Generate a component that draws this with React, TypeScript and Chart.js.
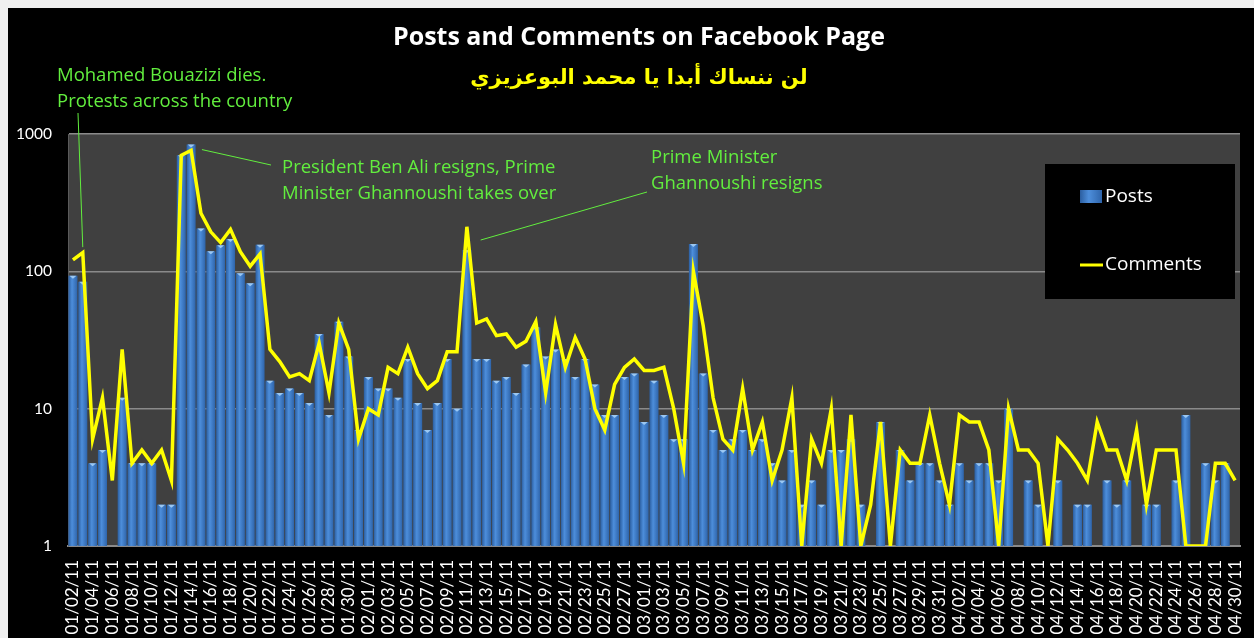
import React, { useEffect, useRef } from 'react';
import { Chart, registerables } from 'chart.js';

Chart.register(...registerables);

const dates: string[] = [
  '01/02/11','01/03/11','01/04/11','01/05/11','01/06/11','01/07/11','01/08/11','01/09/11','01/10/11','01/11/11',
  '01/12/11','01/13/11','01/14/11','01/15/11','01/16/11','01/17/11','01/18/11','01/19/11','01/20/11','01/21/11',
  '01/22/11','01/23/11','01/24/11','01/25/11','01/26/11','01/27/11','01/28/11','01/29/11','01/30/11','01/31/11',
  '02/01/11','02/02/11','02/03/11','02/04/11','02/05/11','02/06/11','02/07/11','02/08/11','02/09/11','02/10/11',
  '02/11/11','02/12/11','02/13/11','02/14/11','02/15/11','02/16/11','02/17/11','02/18/11','02/19/11','02/20/11',
  '02/21/11','02/22/11','02/23/11','02/24/11','02/25/11','02/26/11','02/27/11','02/28/11',
  '03/01/11','03/02/11','03/03/11','03/04/11','03/05/11','03/06/11','03/07/11','03/08/11','03/09/11','03/10/11',
  '03/11/11','03/12/11','03/13/11','03/14/11','03/15/11','03/16/11','03/17/11','03/18/11','03/19/11','03/20/11',
  '03/21/11','03/22/11','03/23/11','03/24/11','03/25/11','03/26/11','03/27/11','03/28/11','03/29/11','03/30/11',
  '03/31/11',
  '04/01/11','04/02/11','04/03/11','04/04/11','04/05/11','04/06/11','04/07/11','04/08/11','04/09/11','04/10/11',
  '04/11/11','04/12/11','04/13/11','04/14/11','04/15/11','04/16/11','04/17/11','04/18/11','04/19/11','04/20/11',
  '04/21/11','04/22/11','04/23/11','04/24/11','04/25/11','04/26/11','04/27/11','04/28/11','04/29/11','04/30/11',
];

const posts: (number | null)[] = [
  93, 84, 4, 5, null, 12, 4, 4, 4, 2,
  2, 700, 840, 205, 140, 155, 172, 97, 82, 156,
  16, 13, 14, 13, 11, 35, 9, 43, 24, 7,
  17, 14, 14, 12, 23, 11, 7, 11, 23, 10,
  143, 23, 23, 16, 17, 13, 21, 39, 24, 27,
  23, 17, 23, 15, 9, 9, 17, 18,
  8, 16, 9, 6, 6, 158, 18, 7, 5, 6,
  7, 5, 6, 4, 3, 5, 2, 3, 2, 5,
  5, 6, 2, null, 8, null, 5, 3, 4, 4,
  3,
  2, 4, 3, 4, 4, 3, 10, null, 3, 2,
  null, 3, null, 2, 2, null, 3, 2, 3, null,
  2, 2, null, 3, 9, null, 4, 3, 4, null,
];

const comments: number[] = [
  121, 137, 6, 12, 3, 27, 4, 5, 4, 5,
  3, 700, 760, 265, 194, 162, 202, 139, 109, 134,
  27, 22, 17, 18, 16, 30, 13, 42, 27, 6,
  10, 9, 20, 18, 28, 18, 14, 16, 26, 26,
  211, 42, 45, 34, 35, 28, 31, 43, 13, 41,
  20, 33, 23, 10, 7, 15, 20, 23,
  19, 19, 20, 10, 4, 100, 40, 12, 6, 5,
  14, 5, 8, 3, 5, 12, 1, 6, 4, 10,
  1, 9, 1, 2, 8, 1, 5, 4, 4, 9,
  4,
  2, 9, 8, 8, 5, 1, 10, 5, 5, 4,
  1, 6, 5, 4, 3, 8, 5, 5, 3, 7,
  2, 5, 5, 5, 1, 1, 1, 4, 4, 3,
];

const yTicks: number[] = [1, 10, 100, 1000];

const TITLE = 'Posts and Comments on Facebook Page';
const SUBTITLE = 'لن ننساك أبدا يا محمد البوعزيزي';
const SERIES_POSTS = 'Posts';
const SERIES_COMMENTS = 'Comments';

// annotation texts, with the data point each leader line points to
const notes = [
  { lines: ['Mohamed Bouazizi dies.', 'Protests across the country'], tx: 49, ty: 68, from: [70, 105], index: 1, value: 150 },
  { lines: ['President Ben Ali resigns, Prime', 'Minister Ghannoushi takes over'], tx: 274, ty: 160, from: [263, 157], index: 13.1, value: 770 },
  { lines: ['Prime Minister', 'Ghannoushi resigns'], tx: 643, ty: 150, from: [639, 184], index: 41.4, value: 169 },
];

const GREEN = '#62ee3e';
const YELLOW = '#ffff00';
const BAR_DARK = '#2b5e a0'.replace(' ', '');
const BAR_LIGHT = '#4d8edb';
const BAR_MID = '#3b78c6';
const BAR_CAP = '#9cc8f2';

function barGradient(ctx: CanvasRenderingContext2D, x0: number, x1: number) {
  const g = ctx.createLinearGradient(x0, 0, x1, 0);
  g.addColorStop(0, BAR_DARK);
  g.addColorStop(0.4, BAR_LIGHT);
  g.addColorStop(1, '#2e64aa');
  return g;
}

const decorPlugin = {
  id: 'decor',
  beforeDraw(chart: any) {
    const { ctx, chartArea: a, width, height } = chart;
    ctx.save();
    ctx.fillStyle = '#000000';
    ctx.fillRect(0, 0, width, height);
    ctx.fillStyle = '#404040';
    ctx.fillRect(a.left, a.top, a.right - a.left, a.bottom - a.top);
    ctx.restore();
  },
  afterDatasetDraw(chart: any, args: any) {
    // light "cylinder" caps on top of each bar
    if (args.meta.type !== 'bar') return;
    const { ctx } = chart;
    ctx.save();
    ctx.fillStyle = BAR_CAP;
    for (const el of args.meta.data) {
      const p = el.getProps(['x', 'y', 'width', 'base', 'skip'], true);
      if (p.skip || !isFinite(p.y) || p.base - p.y < 3) continue;
      const hw = p.width / 2 - 1;
      ctx.beginPath();
      ctx.moveTo(p.x - hw, p.y);
      ctx.lineTo(p.x + hw, p.y);
      ctx.lineTo(p.x, p.y + 3);
      ctx.closePath();
      ctx.fill();
    }
    ctx.restore();
  },
  afterDatasetsDraw(chart: any) {
    const { ctx } = chart;
    const xs = chart.scales.x;
    const ys = chart.scales.y;
    ctx.save();
    // title
    ctx.textAlign = 'center';
    ctx.textBaseline = 'middle';
    ctx.fillStyle = '#ffffff';
    ctx.font = 'bold 25px "Open Sans"';
    ctx.fillText(TITLE, 631, 30);
    ctx.fillStyle = YELLOW;
    ctx.font = 'bold 21px "DejaVu Sans"';
    ctx.fillText(SUBTITLE, 631, 71);

    // annotations
    ctx.textAlign = 'left';
    ctx.font = '18.5px "Open Sans"';
    ctx.fillStyle = GREEN;
    ctx.strokeStyle = GREEN;
    ctx.lineWidth = 1;
    for (const n of notes) {
      n.lines.forEach((t, k) => ctx.fillText(t, n.tx, n.ty + k * 26));
      const px = xs.getPixelForValue(n.index);
      const py = ys.getPixelForValue(n.value);
      if (isFinite(px) && isFinite(py)) {
        ctx.beginPath();
        ctx.moveTo(n.from[0], n.from[1]);
        ctx.lineTo(px, py);
        ctx.stroke();
      }
    }

    // legend
    ctx.fillStyle = '#000000';
    ctx.fillRect(1037, 156, 190, 135);
    ctx.fillStyle = barGradient(ctx, 1072, 1094);
    ctx.fillRect(1072, 182, 22, 13);
    ctx.strokeStyle = YELLOW;
    ctx.lineWidth = 3;
    ctx.beginPath();
    ctx.moveTo(1072, 257);
    ctx.lineTo(1095, 257);
    ctx.stroke();
    ctx.fillStyle = '#ffffff';
    ctx.font = '19px "Open Sans"';
    ctx.textBaseline = 'middle';
    ctx.fillText(SERIES_POSTS, 1097, 189);
    ctx.fillText(SERIES_COMMENTS, 1097, 257);
    ctx.restore();
  },
};

export default function App() {
  const ref = useRef<HTMLCanvasElement>(null);
  useEffect(() => {
    document.body.style.background = '#f0f0f0';
    const canvas = ref.current!;
    const chart = new Chart(canvas, {
      type: 'bar',
      data: {
        labels: dates,
        datasets: [
          {
            type: 'line',
            label: SERIES_COMMENTS,
            data: comments,
            borderColor: YELLOW,
            backgroundColor: YELLOW,
            borderWidth: 3.5,
            pointRadius: 0,
            tension: 0,
            order: 0,
          } as any,
          {
            type: 'bar',
            label: SERIES_POSTS,
            data: posts,
            backgroundColor: (c: any) => {
              const xs = c.chart.scales && c.chart.scales.x;
              if (!xs || c.type !== 'data') return BAR_MID;
              const cx = xs.getPixelForValue(c.dataIndex);
              const w = (xs.width / dates.length) * 0.92;
              if (!isFinite(cx) || !isFinite(w) || w <= 0) return BAR_MID;
              return barGradient(c.chart.ctx, cx - w / 2, cx + w / 2);
            },
            barPercentage: 0.92,
            categoryPercentage: 1.0,
            order: 1,
          },
        ],
      },
      options: {
        animation: false,
        responsive: true,
        maintainAspectRatio: false,
        layout: { padding: { left: 0, top: 126, right: 14, bottom: 0 } },
        plugins: {
          legend: { display: false },
          title: { display: false },
          tooltip: { enabled: false },
        },
        scales: {
          x: {
            type: 'category',
            grid: { display: false, drawTicks: false },
            border: { display: true, color: '#8a8a8a', width: 2 },
            ticks: {
              autoSkip: false,
              maxRotation: 90,
              minRotation: 90,
              padding: 14,
              color: '#ffffff',
              font: { family: 'Lato', size: 17 },
              callback: (_v: any, i: number) => (i % 2 === 0 ? dates[i] : ''),
            },
            afterFit: (s: any) => {
              s.height = 92;
              s.paddingLeft = 0;
              s.paddingRight = 0;
            },
          },
          y: {
            type: 'logarithmic',
            min: 1,
            max: 1000,
            grid: { color: '#8a8a8a', lineWidth: 1.5, drawTicks: false },
            border: { display: true, color: '#5a5a5a', width: 1 },
            afterBuildTicks: (s: any) => { s.ticks = yTicks.map((v) => ({ value: v })); },
            ticks: {
              color: '#ffffff',
              padding: 16,
              font: { family: 'Lato', size: 15.5 },
              callback: (v: any) => String(v),
            },
            afterFit: (s: any) => {
              s.width = 60;
              s.paddingTop = 0;
              s.paddingBottom = 0;
            },
          },
        },
      },
      plugins: [decorPlugin],
    });
    chart.update();
    return () => chart.destroy();
  }, []);
  return (
    <div style={{ position: 'fixed', left: 8, top: 8, width: 1246, height: 630 }}>
      <canvas ref={ref} />
    </div>
  );
}
